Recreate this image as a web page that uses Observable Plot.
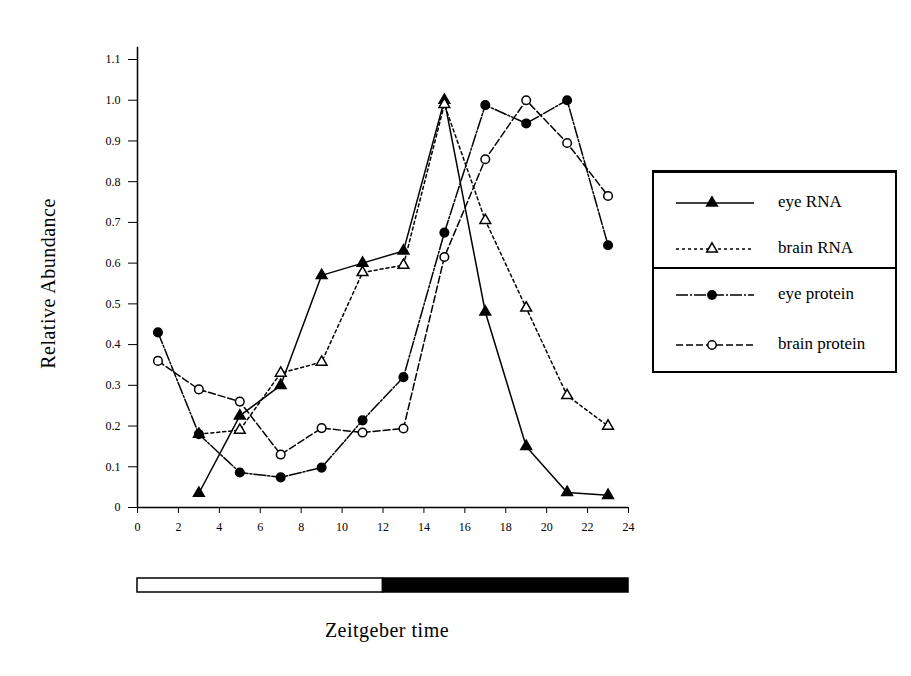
<!DOCTYPE html>
<html>
<head>
<meta charset="utf-8">
<script src="https://cdn.jsdelivr.net/npm/d3@7"></script>
<script src="https://cdn.jsdelivr.net/npm/@observablehq/plot@0.6"></script>
<style>
  html, body { margin: 0; padding: 0; background: #fff; }
  #wrap { position: relative; width: 911px; height: 676px; font-family: "Liberation Serif", "DejaVu Serif", serif; color: #000; }
  #main { position: absolute; left: 0; top: 0; }
  #bar { position: absolute; left: 0; top: 577px; }
  #xlabel { position: absolute; left: 137px; width: 500px; top: 619px; text-align: center; font-size: 20px; letter-spacing: 0.5px; }
  #legend { position: absolute; left: 652px; top: 170px; width: 241px; height: 198px; border: 2px solid #000; border-top-width: 3px; background: #fff; }
  #legend .row { position: absolute; left: 0; width: 241px; height: 30px; }
  #legend .row svg { position: absolute; left: 18px; top: 0; }
  #legend .row span { position: absolute; left: 124px; top: 4px; font-size: 17px; white-space: nowrap; }
  #legend .div { position: absolute; left: -2px; width: 245px; top: 94px; height: 0; border-top: 2px solid #000; }
</style>
</head>
<body>
<div id="wrap">
  <div id="main"></div>
  <div id="bar"></div>
  <div id="xlabel">Zeitgeber time</div>
  <div id="legend"></div>
</div>
<script>
// ---- data ----
const times = [1, 3, 5, 7, 9, 11, 13, 15, 17, 19, 21, 23];
const eyeRNA = [null, 0.035, 0.225, 0.30, 0.57, 0.60, 0.63, 1.0, 0.48, 0.15, 0.037, 0.03];
const brainRNA = [null, 0.18, 0.19, 0.33, 0.357, 0.577, 0.595, 0.99, 0.705, 0.49, 0.275, 0.20];
const eyeProtein = [0.43, 0.18, 0.086, 0.074, 0.098, 0.214, 0.32, 0.675, 0.988, 0.943, 1.0, 0.644];
const brainProtein = [0.36, 0.29, 0.26, 0.13, 0.195, 0.184, 0.194, 0.615, 0.855, 1.0, 0.895, 0.765];
const seriesNames = ["eye RNA", "brain RNA", "eye protein", "brain protein"];
const xTicks = [0, 2, 4, 6, 8, 10, 12, 14, 16, 18, 20, 22, 24];
const yTicks = [0, 0.1, 0.2, 0.3, 0.4, 0.5, 0.6, 0.7, 0.8, 0.9, 1.0, 1.1];
const lightPhases = ["light", "dark"];
const phaseStart = [0, 12];
const phaseEnd = [12, 24];

// ---- styles ----
const styles = {
  "eye RNA": { symbol: "triangle", fill: "#000", dash: null },
  "brain RNA": { symbol: "triangle", fill: "#fff", dash: "3,3" },
  "eye protein": { symbol: "circle", fill: "#000", dash: "12,2,2,2" },
  "brain protein": { symbol: "circle", fill: "#fff", dash: "7,3" }
};

const valuesBySeries = [eyeRNA, brainRNA, eyeProtein, brainProtein];
const rows = [];
seriesNames.forEach((name, si) => {
  times.forEach((t, i) => {
    const v = valuesBySeries[si][i];
    if (v != null) rows.push({ series: name, t, v });
  });
});

const marks = [
  Plot.ruleY([0], { stroke: "#000", strokeWidth: 1.5 }),
  Plot.ruleX([0], { stroke: "#000", strokeWidth: 1.5, y1: 0, y2: 1.13 })
];
seriesNames.forEach(name => {
  const st = styles[name];
  const data = rows.filter(d => d.series === name);
  marks.push(Plot.line(data, { x: "t", y: "v", stroke: "#000", strokeWidth: 1.5, strokeDasharray: st.dash }));
});
seriesNames.forEach(name => {
  const st = styles[name];
  const data = rows.filter(d => d.series === name);
  marks.push(Plot.dot(data, { x: "t", y: "v", symbol: () => st.symbol, r: st.symbol === "triangle" ? 4 : 4.3, fill: st.fill, stroke: "#000", strokeWidth: 1.5 }));
});
marks.push(Plot.axisX({ ticks: xTicks, tickSize: 6, tickPadding: 9, fontSize: 12, label: null }));
marks.push(Plot.axisY({
  ticks: yTicks, tickSize: 9, tickPadding: 8, fontSize: 12,
  tickFormat: d => d === 0 ? "0" : d3.format(".1f")(d),
  label: "Relative Abundance", labelAnchor: "center", labelOffset: 97, labelArrow: "none"
}));

const main = Plot.plot({
  width: 911, height: 560,
  marginLeft: 137, marginRight: 283, marginTop: 59, marginBottom: 53,
  style: { fontFamily: "'Liberation Serif', 'DejaVu Serif', serif", fontSize: "12px", background: "#fff", color: "#000", overflow: "visible" },
  x: { domain: [0, 24] },
  y: { domain: [0, 1.1] },
  marks
});
// enlarge y-axis label font
main.querySelectorAll("[aria-label='y-axis label']").forEach(g => {
  g.setAttribute("font-size", 20);
  g.querySelectorAll("text").forEach(t => { t.setAttribute("font-size", 20); t.style.fontSize = "20px"; t.style.letterSpacing = "0.5px"; });
});
document.getElementById("main").append(main);

// ---- light/dark bar ----
const phases = lightPhases.map((p, i) => ({ phase: p, x1: phaseStart[i], x2: phaseEnd[i] }));
const bar = Plot.plot({
  width: 911, height: 16,
  marginLeft: 137, marginRight: 283, marginTop: 1, marginBottom: 1,
  x: { domain: [0, 24], axis: null },
  style: { background: "transparent", overflow: "visible" },
  marks: [
    Plot.rect(phases, { x1: "x1", x2: "x2", fill: d => d.phase === "light" ? "#fff" : "#000", stroke: "#000", strokeWidth: 1.5 })
  ]
});
document.getElementById("bar").append(bar);

// ---- legend ----
const legend = document.getElementById("legend");
const rowTops = [15, 61, 107, 157];
seriesNames.forEach((name, i) => {
  const st = styles[name];
  const row = document.createElement("div");
  row.className = "row";
  row.style.top = rowTops[i] + "px";
  const ns = "http://www.w3.org/2000/svg";
  const svg = document.createElementNS(ns, "svg");
  svg.setAttribute("width", 90); svg.setAttribute("height", 30);
  const line = document.createElementNS(ns, "line");
  line.setAttribute("x1", 4); line.setAttribute("x2", 82); line.setAttribute("y1", 15); line.setAttribute("y2", 15);
  line.setAttribute("stroke", "#000"); line.setAttribute("stroke-width", 1.5);
  if (st.dash) line.setAttribute("stroke-dasharray", st.dash);
  svg.append(line);
  const sym = document.createElementNS(ns, "path");
  const size = st.symbol === "triangle" ? 50 : 56;
  sym.setAttribute("d", d3.symbol(st.symbol === "triangle" ? d3.symbolTriangle : d3.symbolCircle, size)());
  sym.setAttribute("transform", "translate(40,15)");
  sym.setAttribute("fill", st.fill); sym.setAttribute("stroke", "#000"); sym.setAttribute("stroke-width", 1.5);
  svg.append(sym);
  row.append(svg);
  const span = document.createElement("span");
  span.textContent = name;
  row.append(span);
  legend.append(row);
});
const divider = document.createElement("div");
divider.className = "div";
legend.append(divider);
</script>
</body>
</html>
